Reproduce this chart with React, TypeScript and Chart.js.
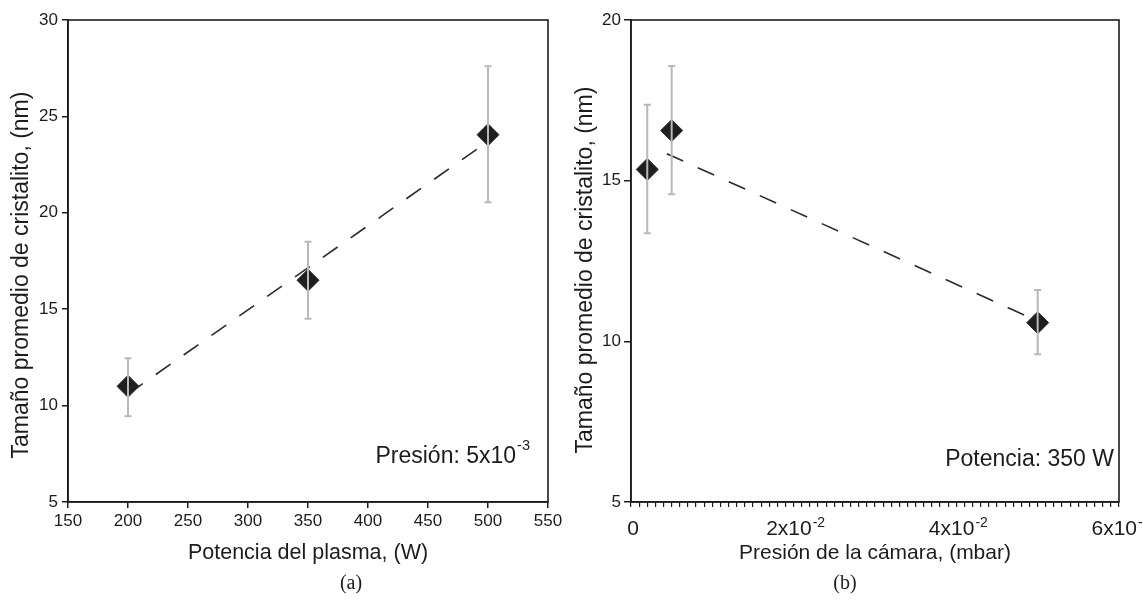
import React, { useEffect, useRef } from 'react';
import { Chart, registerables } from 'chart.js';

Chart.register(...registerables);

// ---------- Data: panel (a) ----------
const powerW = [200, 350, 500];
const sizeByPower = [11.0, 16.5, 24.05];
const sizeByPowerLow = [9.45, 14.5, 20.55];
const sizeByPowerHigh = [12.45, 18.5, 27.6];
const powerFitX = [200, 500];
const powerFitY = [10.6, 23.7];
const powerAxisMin = 150;
const powerAxisMax = 550;
const powerAxisStep = 50;
const sizeAxisAMin = 5;
const sizeAxisAMax = 30;

// ---------- Data: panel (b) ----------
const pressureMbar = [0.002, 0.005, 0.05];
const sizeByPressure = [15.35, 16.56, 10.58];
const sizeByPressureLow = [13.36, 14.58, 9.6];
const sizeByPressureHigh = [17.36, 18.57, 11.6];
const pressureFitX = [0.0044, 0.05];
const pressureFitY = [15.84, 10.63];
const pressureAxisMin = 0;
const pressureAxisMax = 0.06;
const pressureMinorStep = 0.001;
const pressureLabelValues = [0, 0.02, 0.04, 0.06];
const pressureLabelBase = ['0', '2x10', '4x10', '6x10'];
const pressureLabelExp = ['', '-2', '-2', '-2'];
const sizeAxisBMin = 5;
const sizeAxisBMax = 20;

// ---------- Text ----------
const yTitle = 'Tamaño promedio de cristalito, (nm)';
const xTitleA = 'Potencia del plasma, (W)';
const xTitleB = 'Presión de la cámara, (mbar)';
const noteABase = 'Presión: 5x10';
const noteAExp = '-3';
const noteB = 'Potencia: 350 W';
const captionA = '(a)';
const captionB = '(b)';

const FONT = '"Liberation Sans", Arial, Helvetica, sans-serif';
const INK = '#1c1c1c';

function errorAndFramePlugin(lows: number[], highs: number[], xs: number[]) {
  return {
    id: 'errFrame',
    afterDatasetsDraw(chart: any) {
      const ctx = chart.ctx;
      const xS = chart.scales.x;
      const yS = chart.scales.y;
      ctx.save();
      ctx.strokeStyle = '#b9b9b9';
      ctx.lineWidth = 2;
      for (let i = 0; i < xs.length; i++) {
        const px = xS.getPixelForValue(xs[i]);
        const pl = yS.getPixelForValue(lows[i]);
        const ph = yS.getPixelForValue(highs[i]);
        ctx.beginPath();
        ctx.moveTo(px, pl);
        ctx.lineTo(px, ph);
        ctx.moveTo(px - 3.5, pl);
        ctx.lineTo(px + 3.5, pl);
        ctx.moveTo(px - 3.5, ph);
        ctx.lineTo(px + 3.5, ph);
        ctx.stroke();
      }
      const a = chart.chartArea;
      ctx.strokeStyle = INK;
      ctx.lineWidth = 1.6;
      ctx.strokeRect(a.left, a.top, a.right - a.left, a.bottom - a.top);
      ctx.restore();
    },
  };
}

function yTitlePlugin(text: string, cx: number, cy: number) {
  return {
    id: 'yTitle',
    afterDraw(chart: any) {
      const ctx = chart.ctx;
      ctx.save();
      ctx.translate(cx, cy);
      ctx.rotate(-Math.PI / 2);
      ctx.font = `23px ${FONT}`;
      ctx.fillStyle = INK;
      ctx.textAlign = 'center';
      ctx.textBaseline = 'middle';
      ctx.fillText(text, 0, 0);
      ctx.restore();
    },
  };
}

function noteAPlugin() {
  return {
    id: 'noteA',
    afterDraw(chart: any) {
      const ctx = chart.ctx;
      const a = chart.chartArea;
      ctx.save();
      ctx.fillStyle = INK;
      ctx.textBaseline = 'alphabetic';
      ctx.textAlign = 'left';
      ctx.font = `14.5px ${FONT}`;
      const wExp = ctx.measureText(noteAExp).width;
      ctx.font = `23px ${FONT}`;
      const wBase = ctx.measureText(noteABase).width;
      const right = a.right - 18;
      const base = a.bottom - 39.5;
      ctx.fillText(noteABase, right - wExp - wBase - 1, base);
      ctx.font = `14.5px ${FONT}`;
      ctx.fillText(noteAExp, right - wExp, base - 13);
      ctx.restore();
    },
  };
}

function noteBAndLabelsPlugin() {
  return {
    id: 'noteB',
    afterDraw(chart: any) {
      const ctx = chart.ctx;
      const a = chart.chartArea;
      const xS = chart.scales.x;
      ctx.save();
      ctx.fillStyle = INK;
      ctx.textBaseline = 'alphabetic';
      ctx.textAlign = 'right';
      ctx.font = `23px ${FONT}`;
      ctx.fillText(noteB, a.right - 5, a.bottom - 36.5);
      ctx.textAlign = 'left';
      for (let i = 0; i < pressureLabelValues.length; i++) {
        const px = xS.getPixelForValue(pressureLabelValues[i]) + 2;
        ctx.font = `21px ${FONT}`;
        const wb = ctx.measureText(pressureLabelBase[i]).width;
        ctx.font = `14px ${FONT}`;
        const we = pressureLabelExp[i] ? ctx.measureText(pressureLabelExp[i]).width + 1 : 0;
        const x0 = px - (wb + we) / 2;
        ctx.font = `21px ${FONT}`;
        ctx.fillText(pressureLabelBase[i], x0, a.bottom + 33);
        if (pressureLabelExp[i]) {
          ctx.font = `14px ${FONT}`;
          ctx.fillText(pressureLabelExp[i], x0 + wb + 1, a.bottom + 25);
        }
      }
      ctx.restore();
    },
  };
}

const tickFont = { family: FONT, size: 17 };

function PanelA() {
  const ref = useRef<HTMLCanvasElement | null>(null);
  useEffect(() => {
    if (!ref.current) return;
    const chart = new Chart(ref.current, {
      type: 'scatter',
      data: {
        datasets: [
          {
            data: powerFitX.map((x, i) => ({ x, y: powerFitY[i] })),
            showLine: true,
            borderColor: '#2a2a2a',
            borderWidth: 1.6,
            borderDash: [18, 16],
            pointRadius: 0,
            order: 2,
          },
          {
            data: powerW.map((x, i) => ({ x, y: sizeByPower[i] })),
            pointStyle: 'rectRot',
            pointRadius: 11,
            backgroundColor: '#1f1f1f',
            borderColor: '#2b2b2b',
            borderWidth: 1,
            order: 1,
          },
        ],
      },
      options: {
        animation: false,
        responsive: false,
        events: [],
        layout: { padding: { left: 0, top: 20, right: 22, bottom: 37 } },
        plugins: { legend: { display: false }, tooltip: { enabled: false } },
        scales: {
          x: {
            type: 'linear',
            min: powerAxisMin,
            max: powerAxisMax,
            ticks: { stepSize: powerAxisStep, font: tickFont, color: INK, padding: 3, maxRotation: 0 },
            grid: { drawOnChartArea: false, tickLength: 6, color: INK, lineWidth: 1.5 },
            border: { color: INK, width: 1.6 },
            title: { display: true, text: xTitleA, font: { family: FONT, size: 21.5 }, color: INK, padding: 0 },
            afterFit: (s: any) => { s.height = 64; },
          },
          y: {
            type: 'linear',
            min: sizeAxisAMin,
            max: sizeAxisAMax,
            ticks: { stepSize: 5, font: tickFont, color: INK, padding: 4 },
            grid: { drawOnChartArea: false, tickLength: 6, color: INK, lineWidth: 1.5 },
            border: { color: INK, width: 1.6 },
            afterFit: (s: any) => { s.width = 68; },
          },
        },
      } as any,
      plugins: [
        errorAndFramePlugin(sizeByPowerLow, sizeByPowerHigh, powerW),
        yTitlePlugin(yTitle, 22, 275),
        noteAPlugin(),
      ],
    });
    return () => chart.destroy();
  }, []);
  return (
    <canvas
      ref={ref}
      width={570}
      height={603}
      style={{ position: 'absolute', left: 0, top: 0, width: 570, height: 603 }}
    />
  );
}

function PanelB() {
  const ref = useRef<HTMLCanvasElement | null>(null);
  useEffect(() => {
    if (!ref.current) return;
    const chart = new Chart(ref.current, {
      type: 'scatter',
      data: {
        datasets: [
          {
            data: pressureFitX.map((x, i) => ({ x, y: pressureFitY[i] })),
            showLine: true,
            borderColor: '#2a2a2a',
            borderWidth: 1.6,
            borderDash: [18, 16],
            pointRadius: 0,
            order: 2,
          },
          {
            data: pressureMbar.map((x, i) => ({ x, y: sizeByPressure[i] })),
            pointStyle: 'rectRot',
            pointRadius: 11,
            backgroundColor: '#1f1f1f',
            borderColor: '#2b2b2b',
            borderWidth: 1,
            order: 1,
          },
        ],
      },
      options: {
        animation: false,
        responsive: false,
        events: [],
        layout: { padding: { left: 0, top: 20, right: 24, bottom: 37 } },
        plugins: { legend: { display: false }, tooltip: { enabled: false } },
        scales: {
          x: {
            type: 'linear',
            min: pressureAxisMin,
            max: pressureAxisMax,
            ticks: { stepSize: pressureMinorStep, display: false },
            grid: { drawOnChartArea: false, tickLength: 5, color: INK, lineWidth: 1.2 },
            border: { color: INK, width: 1.6 },
            title: { display: true, text: xTitleB, font: { family: FONT, size: 21 }, color: INK, padding: 0 },
            afterFit: (s: any) => { s.height = 64; },
          },
          y: {
            type: 'linear',
            min: sizeAxisBMin,
            max: sizeAxisBMax,
            ticks: { stepSize: 5, font: tickFont, color: INK, padding: 3 },
            grid: { drawOnChartArea: false, tickLength: 7, color: INK, lineWidth: 1.5 },
            border: { color: INK, width: 1.6 },
            afterFit: (s: any) => { s.width = 61; },
          },
        },
      } as any,
      plugins: [
        errorAndFramePlugin(sizeByPressureLow, sizeByPressureHigh, pressureMbar),
        yTitlePlugin(yTitle, 16, 270),
        noteBAndLabelsPlugin(),
      ],
    });
    return () => chart.destroy();
  }, []);
  return (
    <canvas
      ref={ref}
      width={573}
      height={603}
      style={{ position: 'absolute', left: 570, top: 0, width: 573, height: 603 }}
    />
  );
}

const captionStyle: React.CSSProperties = {
  position: 'absolute',
  top: 570,
  width: 60,
  height: 24,
  lineHeight: '24px',
  textAlign: 'center',
  fontFamily: '"Liberation Serif", "Times New Roman", serif',
  fontSize: 20,
  color: INK,
};

export default function App() {
  return (
    <div
      style={{
        position: 'fixed',
        left: 0,
        top: 0,
        width: 1143,
        height: 603,
        background: '#fff',
        overflow: 'hidden',
      }}
    >
      <PanelA />
      <PanelB />
      <div style={{ ...captionStyle, left: 351 - 30 }}>{captionA}</div>
      <div style={{ ...captionStyle, left: 845 - 30 }}>{captionB}</div>
    </div>
  );
}
